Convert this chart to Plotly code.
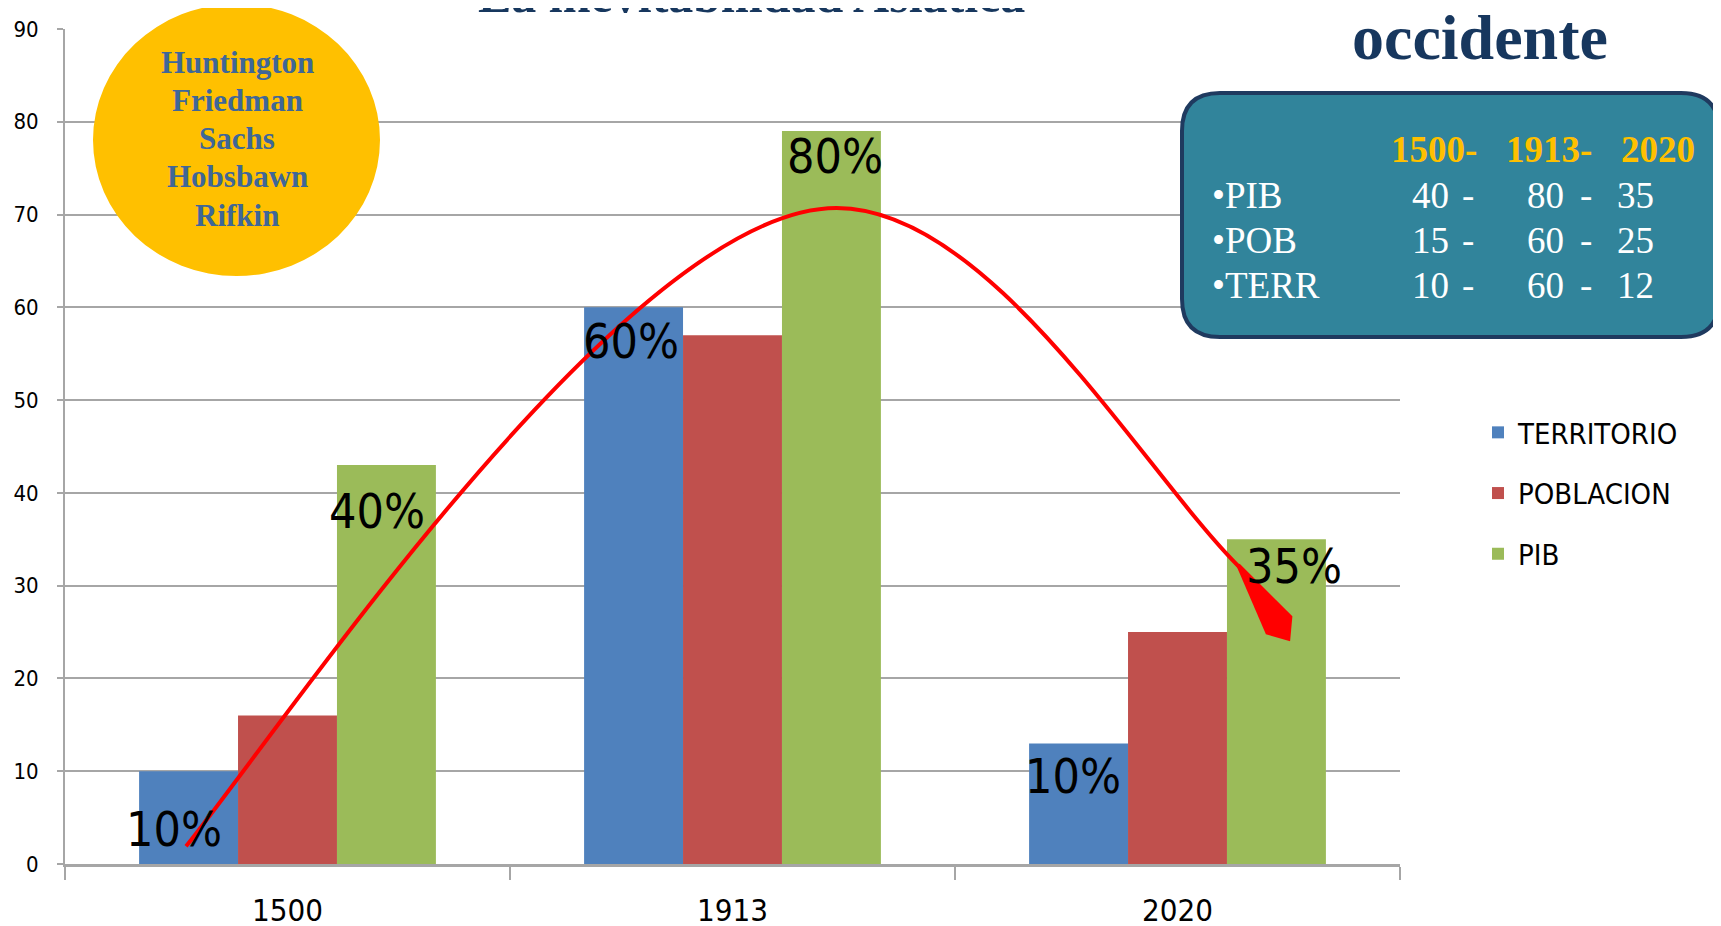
import math
import numpy as np
import plotly.graph_objects as go

# --- data ---
years = ["1500", "1913", "2020"]
territorio = [10, 60, 13]
poblacion = [16, 57, 25]
pib = [43, 79, 35]

# percentage labels written on the bars
terr_labels = ["10%", "60%", "10%"]
pib_labels = ["40%", "80%", "35%"]

# table in the teal box
table_years = ["1500-", "1913-", "2020"]
table_rows = ["•PIB", "•POB", "•TERR"]
table_pib = [40, 80, 35]
table_pob = [15, 60, 25]
table_terr = [10, 60, 12]

authors = ["Huntington", "Friedman", "Sachs", "Hobsbawn", "Rifkin"]

# red trend arrow, traced by eye (category index, value); PEAK = index of the top
curve_x = [-0.228, -0.112, -0.017, 0.328, 0.478, 0.612, 0.785, 0.949, 1.107,
           1.234, 1.361, 1.466, 1.639, 1.833, 1.991, 2.141]
curve_y = [1.9, 8.7, 15.9, 36.0, 45.2, 51.8, 59.7, 65.5, 69.4,
           70.7, 69.8, 66.6, 60.1, 50.0, 40.0, 31.9]
PEAK = 9
arrow_tip = (2.253, 24.0)

# the page body adds an 8px margin around the figure
OFF = 8
SW, SH = 1721, 926
W, H = SW - OFF, SH - OFF
PL, PR, PT, PB = 65, 1400, 29, 864          # plot area on screen
PW, PH = PR - PL, PB - PT
NARROW = "Liberation Sans Narrow, Arial Narrow, DejaVu Sans Condensed, sans-serif"
SERIF = "Liberation Serif, Times New Roman, serif"


def px(x):
    return (x - PL) / PW


def py(y):
    return (PB - y) / PH


sx, sy = PW / 3.0, PH / 90.0


def basis(t):
    return np.column_stack([(1 - t) ** 3, 3 * (1 - t) ** 2 * t, 3 * (1 - t) * t ** 2, t ** 3])


def fit_cubic(Q, fix1y=None, fix2y=None):
    # least squares cubic bezier, ends fixed, optional flat tangent at one end
    d = np.r_[0, np.cumsum(np.hypot(*np.diff(Q, axis=0).T))]
    t = d / d[-1]
    tt = np.linspace(0, 1, 2001)
    for _ in range(10):
        b = basis(t)
        rx = Q[:, 0] - b[:, 0] * Q[0, 0] - b[:, 3] * Q[-1, 0]
        ry = Q[:, 1] - b[:, 0] * Q[0, 1] - b[:, 3] * Q[-1, 1]
        x1, x2 = np.linalg.lstsq(b[:, 1:3], rx, rcond=None)[0]
        if fix2y is not None:
            y2 = fix2y
            y1 = np.linalg.lstsq(b[:, 1:2], ry - b[:, 2] * y2, rcond=None)[0][0]
        else:
            y1 = fix1y
            y2 = np.linalg.lstsq(b[:, 2:3], ry - b[:, 1] * y1, rcond=None)[0][0]
        ctrl = np.array([Q[0], [x1, y1], [x2, y2], Q[-1]])
        B = basis(tt) @ ctrl
        t = tt[np.argmin(((Q[:, None, :] - B[None, :, :]) ** 2).sum(-1), axis=1)]
        t[0], t[-1] = 0.0, 1.0
    return ctrl / [sx, sy]


Pts = np.column_stack([np.array(curve_x) * sx, np.array(curve_y) * sy])
top = Pts[PEAK, 1]
seg1 = fit_cubic(Pts[:PEAK + 1], fix2y=top)
seg2 = fit_cubic(Pts[PEAK:], fix1y=top)
fmt = lambda p: f"{p[0]:.4f},{p[1]:.4f}"
curve_path = ("M" + fmt(seg1[0]) + " C" + " ".join(fmt(p) for p in seg1[1:])
              + " C" + " ".join(fmt(p) for p in seg2[1:]))

xs = list(range(len(years)))
fig = go.Figure()
for name, vals, col in [("TERRITORIO", territorio, "#4F81BD"),
                        ("POBLACION", poblacion, "#C0504D"),
                        ("PIB", pib, "#9BBB59")]:
    fig.add_trace(go.Bar(x=xs, y=vals, name=name, marker_color=col,
                         marker_line_width=0, legendgroup=name))

shapes = [dict(type="path", xref="x", yref="y", path=curve_path,
               line=dict(color="#FF0000", width=4))]

# arrow head: narrow kite anchored at the tip, in pixels
dx = (arrow_tip[0] - curve_x[-1]) * sx
dy = (arrow_tip[1] - curve_y[-1]) * sy
ln = math.hypot(dx, dy)
ux, uy = dx / ln, dy / ln
vx, vy = -uy, ux
hw, back = 16, 0.22 * ln
pts = [(0, 0),
       (-back * ux + hw * vx, -back * uy + hw * vy),
       (-(ln + 4) * ux + 2 * vx, -(ln + 4) * uy + 2 * vy),
       (-(ln + 4) * ux - 2 * vx, -(ln + 4) * uy - 2 * vy),
       (-back * ux - hw * vx, -back * uy - hw * vy)]
head = "M" + " L".join(f"{a:.1f},{b:.1f}" for a, b in pts) + " Z"
shapes.append(dict(type="path", xref="x", yref="y", xsizemode="pixel", ysizemode="pixel",
                   xanchor=arrow_tip[0], yanchor=arrow_tip[1], path=head,
                   fillcolor="#FF0000", line=dict(width=0)))

# yellow ellipse with author names
shapes.append(dict(type="circle", xref="paper", yref="paper",
                   x0=px(93), x1=px(380), y0=py(276), y1=py(4),
                   fillcolor="#FFC000", line=dict(width=0)))

# teal rounded box
x0, x1, y0, y1 = px(1182), px(1719), py(337), py(93)
rx, ry = 38 / PW, 38 / PH
box = (f"M{x0 + rx},{y1} L{x1 - rx},{y1} Q{x1},{y1} {x1},{y1 - ry} "
       f"L{x1},{y0 + ry} Q{x1},{y0} {x1 - rx},{y0} L{x0 + rx},{y0} "
       f"Q{x0},{y0} {x0},{y0 + ry} L{x0},{y1 - ry} Q{x0},{y1} {x0 + rx},{y1} Z")
shapes.append(dict(type="path", xref="paper", yref="paper", path=box,
                   fillcolor="#31849B", line=dict(color="#1F3A5F", width=4)))

ann = []


def note(x, y, text, font, xanchor="center", yanchor="middle"):
    ann.append(dict(x=px(x), y=py(y), xref="paper", yref="paper", text=text,
                    showarrow=False, xanchor=xanchor, yanchor=yanchor, font=font))


# bar labels
big = dict(family=NARROW, size=48, color="black")
for i, x, y in [(0, -0.254, 3.8), (1, 0.773, 56.4), (2, 1.765, 9.5)]:
    ann.append(dict(x=x, y=y, xref="x", yref="y", text=terr_labels[i], showarrow=False,
                    xanchor="center", yanchor="middle", font=big))
for i, x, y in [(0, 0.202, 38.0), (1, 1.230, 76.3), (2, 2.262, 32.1)]:
    ann.append(dict(x=x, y=y, xref="x", yref="y", text=pib_labels[i], showarrow=False,
                    xanchor="center", yanchor="middle", font=big))

author_font = dict(family=SERIF, size=31, color="#3F6797", weight="bold")
for k, name in enumerate(authors):
    note(237, 62 + k * 38.3, name, author_font)
note(1480, 38, "occidente", dict(family=SERIF, size=64, color="#17375E", weight="bold"))
note(752, -5, "La inevitabilidad Asiatica",
     dict(family=SERIF, size=50, color="#17375E", weight="bold"))

# table inside the box
head_font = dict(family=SERIF, size=37, color="#FFC000", weight="bold")
cell_font = dict(family=SERIF, size=37, color="white")
for txt, x in zip(table_years, [1434, 1549, 1658]):
    note(x, 149, txt, head_font)
for r, (lab, vals) in enumerate(zip(table_rows, [table_pib, table_pob, table_terr])):
    yy = 195 + r * 45
    note(1210, yy, lab, cell_font, xanchor="left")
    for v, x in zip(vals, [1430, 1545, 1635]):
        note(x, yy, str(v), cell_font)
    for x in [1468, 1586]:
        note(x, yy, "-", cell_font)

fig.update_layout(
    width=W, height=H,
    margin=dict(l=PL - OFF, r=W - (PR - OFF), t=PT - OFF, b=H - (PB - OFF),
                autoexpand=False),
    plot_bgcolor="white", paper_bgcolor="white",
    barmode="group", bargap=0.333, bargroupgap=0,
    shapes=shapes, annotations=ann,
    legend=dict(x=px(1478), y=py(407), xanchor="left", yanchor="top",
                font=dict(family=NARROW, size=29, color="black"),
                tracegroupgap=20, bgcolor="rgba(0,0,0,0)"),
    xaxis=dict(range=[-0.5, 2.5], tickvals=xs, ticktext=years, ticks="",
               showgrid=False, zeroline=False, showline=True,
               linecolor="#A6A6A6", linewidth=3, ticklabelstandoff=17,
               tickfont=dict(family=NARROW, size=31, color="black"),
               minor=dict(tickvals=[i - 0.5 for i in range(len(years) + 1)],
                          ticks="outside", ticklen=13, tickwidth=2, tickcolor="#A6A6A6",
                          showgrid=False)),
    yaxis=dict(range=[0, 90], dtick=10, showgrid=True, gridcolor="#A6A6A6", gridwidth=2,
               zeroline=False, showline=True, linecolor="#A6A6A6", linewidth=2,
               ticks="outside", ticklen=6, tickwidth=2, tickcolor="#A6A6A6",
               ticklabelstandoff=14,
               tickfont=dict(family=NARROW, size=22, color="black")),
)

fig.write_html("out.html")
